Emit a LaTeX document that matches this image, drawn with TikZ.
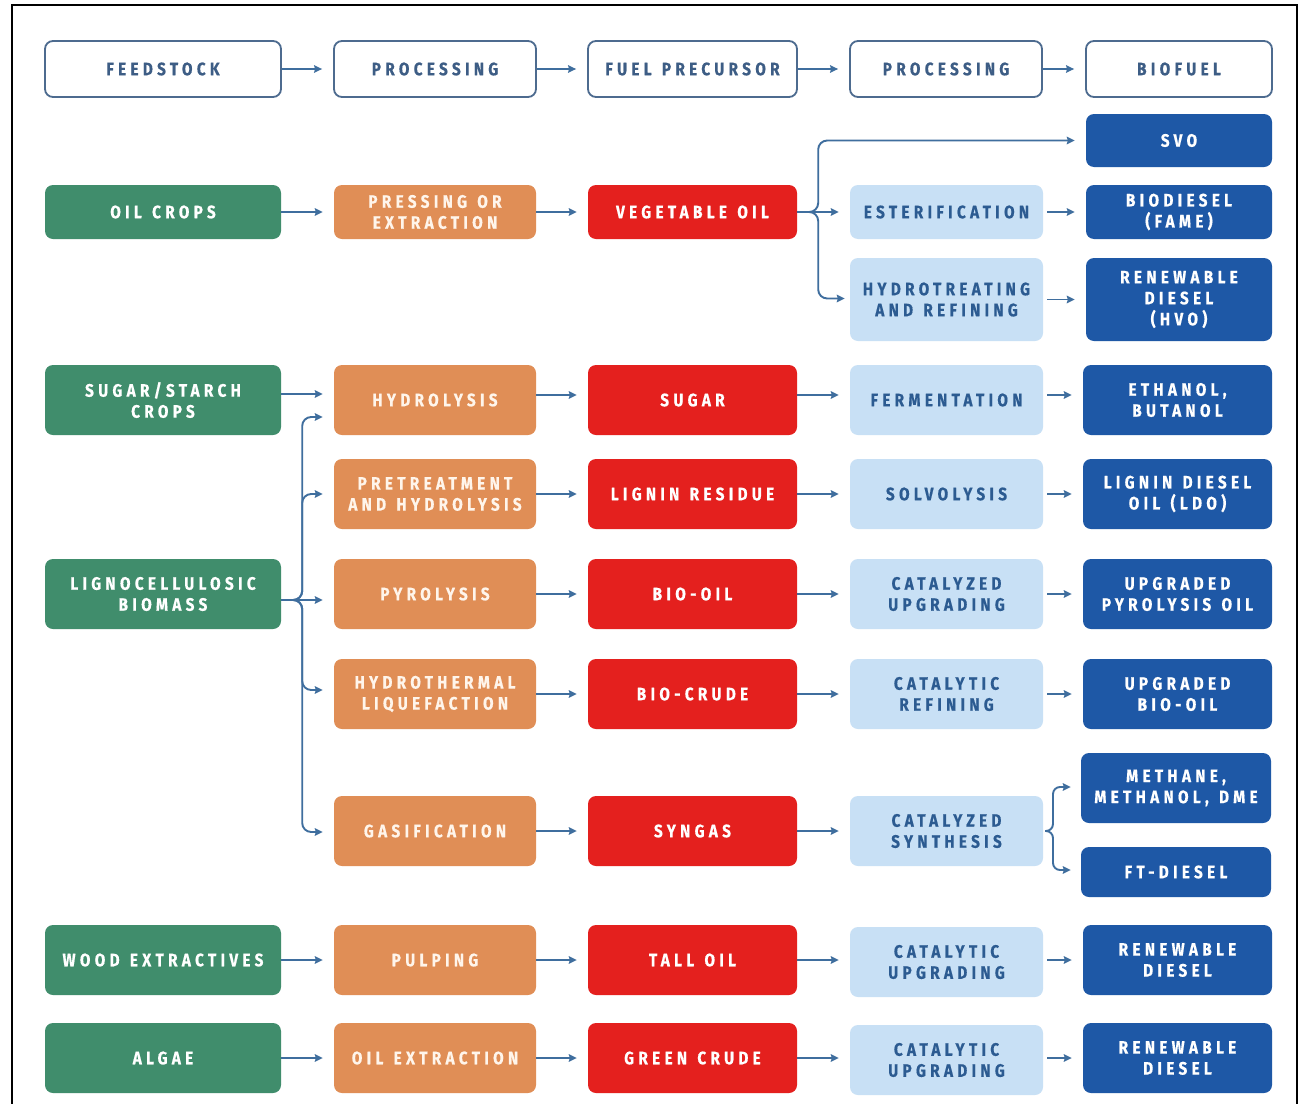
\documentclass[tikz,border=0pt]{standalone}
\usepackage{fontspec}
\setmainfont{Fira Sans}[FakeStretch=0.85,LetterSpace=24,WordSpace=1.3,FakeBold=0.5]
\usetikzlibrary{arrows.meta}
\definecolor{cgreen}{HTML}{408D6C}
\definecolor{corange}{HTML}{E08E56}
\definecolor{cred}{HTML}{E4201E}
\definecolor{clblue}{HTML}{C8E0F5}
\definecolor{cdblue}{HTML}{1E58A6}
\definecolor{chdr}{HTML}{4D6B8F}
\definecolor{chdrtext}{HTML}{3D5D85}
\definecolor{cltext}{HTML}{2C5B91}
\definecolor{carrow}{HTML}{3F6E9E}
\begin{document}
\begin{tikzpicture}[x=1pt,y=-1pt,
  box/.style={rounded corners=8pt, align=center, inner sep=0pt, text=white,
    font=\fontsize{18}{21}\selectfont\bfseries, minimum height=70pt},
  hdr/.style={box, draw=chdr, line width=1.8pt, fill=white, text=chdrtext, minimum height=56pt},
  gbox/.style={box, fill=cgreen, minimum width=236pt},
  obox/.style={box, fill=corange, text=white!92!orange, minimum width=202pt},
  rbox/.style={box, fill=cred, minimum width=209pt},
  lbox/.style={box, fill=clblue, text=cltext, minimum width=193pt},
  dbox/.style={box, fill=cdblue, minimum width=189pt},
  arr/.style={draw=carrow, line width=1.9pt, -{Stealth[length=8pt,width=7.5pt,inset=1pt]}, shorten >=11pt},
  arrs/.style={arr, shorten <=4pt}
]
\useasboundingbox (0,0) rectangle (1301,1103);
\fill[white] (0,0) rectangle (1301,1103);
\begin{scope}
\clip (0,0) rectangle (1301,1103);
\draw[line width=2pt, black] (12,5) rectangle (1297,1130);
\end{scope}

% header
\node[hdr, minimum width=236pt] (h1) at (163,69) {FEEDSTOCK};
\node[hdr, minimum width=202pt] (h2) at (435,69) {PROCESSING};
\node[hdr, minimum width=209pt] (h3) at (692.5,69) {FUEL PRECURSOR};
\node[hdr, minimum width=192pt] (h4) at (946,69) {PROCESSING};
\node[hdr, minimum width=186pt] (h5) at (1179,69) {BIOFUEL};
\draw[arr] (h1) -- (h2);
\draw[arr] (h2) -- (h3);
\draw[arr] (h3) -- (h4);
\draw[arr] (h4) -- (h5);

% oil crops
\node[gbox, minimum height=54pt] (oil) at (163,212) {OIL CROPS};
\node[obox, minimum height=54pt] (press) at (435,212) {PRESSING OR\\EXTRACTION};
\node[rbox, minimum height=54pt] (veg) at (692.5,212) {VEGETABLE OIL};
\node[lbox, minimum height=54pt] (ester) at (946.5,212) {ESTERIFICATION};
\node[dbox, minimum width=186pt, minimum height=54pt] (fame) at (1179,212) {BIODIESEL\\(FAME)};
\node[dbox, minimum width=186pt, minimum height=53pt] (svo) at (1179,140.5) {SVO};
\node[lbox, minimum height=83pt] (hydrot) at (946.5,299.5) {HYDROTREATING\\AND REFINING};
\node[dbox, minimum width=186pt, minimum height=83pt] (hvo) at (1179,299.5) {RENEWABLE\\DIESEL\\(HVO)};
\draw[arr] (oil) -- (press);
\draw[arr] (press) -- (veg);
\draw[arr] (veg) -- (ester);
\draw[arrs] (ester) -- (fame);
\draw[arrs] (hydrot) -- (hvo);
\draw[arr, rounded corners=9pt] (veg.east) -- ++(21,0) |- (svo.west);
\draw[arr, rounded corners=9pt, shorten >=5pt] (veg.east) -- ++(21,0) |- ([yshift=1pt]hydrot.west);

% sugar
\node[gbox] (ss) at (163,400) {SUGAR/STARCH\\CROPS};
\node[obox] (hydrol) at (435,400) {HYDROLYSIS};
\node[rbox] (sugar) at (692.5,400) {SUGAR};
\node[lbox] (ferm) at (946.5,400) {FERMENTATION};
\node[dbox] (eth) at (1177.5,400) {ETHANOL,\\BUTANOL};
\draw[arr] ([yshift=6pt]ss.east) -- ([yshift=6pt]hydrol.west);
\draw[arr] ([yshift=5pt]hydrol.east) -- ([yshift=5pt]sugar.west);
\draw[arr] ([yshift=5pt]sugar.east) -- ([yshift=5pt]ferm.west);
\draw[arrs] ([yshift=5pt]ferm.east) -- ([yshift=5pt]eth.west);

% pretreatment
\node[obox] (pre) at (435,494) {PRETREATMENT\\AND HYDROLYSIS};
\node[rbox] (lig) at (692.5,494) {LIGNIN RESIDUE};
\node[lbox] (solv) at (946.5,494) {SOLVOLYSIS};
\node[dbox] (ldo) at (1177.5,494) {LIGNIN DIESEL\\OIL (LDO)};
\draw[arr] (pre) -- (lig);
\draw[arr] (lig) -- (solv);
\draw[arrs] (solv) -- (ldo);

% pyrolysis
\node[gbox] (lcb) at (163,594) {LIGNOCELLULOSIC\\BIOMASS};
\node[obox] (pyro) at (435,594) {PYROLYSIS};
\node[rbox] (biooil) at (692.5,594) {BIO-OIL};
\node[lbox] (cu) at (946.5,594) {CATALYZED\\UPGRADING};
\node[dbox] (upo) at (1177.5,594) {UPGRADED\\PYROLYSIS OIL};
\draw[arr] (pyro) -- (biooil);
\draw[arr] (biooil) -- (cu);
\draw[arrs] (cu) -- (upo);

% hydrothermal
\node[obox] (htl) at (435,694) {HYDROTHERMAL\\LIQUEFACTION};
\node[rbox] (biocrude) at (692.5,694) {BIO-CRUDE};
\node[lbox] (cr) at (946.5,694) {CATALYTIC\\REFINING};
\node[dbox] (ubo) at (1177.5,694) {UPGRADED\\BIO-OIL};
\draw[arr] (htl) -- (biocrude);
\draw[arr] (biocrude) -- (cr);
\draw[arrs] (cr) -- (ubo);

% gasification
\node[obox] (gas) at (435,831) {GASIFICATION};
\node[rbox] (syngas) at (692.5,831) {SYNGAS};
\node[lbox] (cs) at (946.5,831) {CATALYZED\\SYNTHESIS};
\node[dbox, minimum width=190pt] (meth) at (1176,788) {METHANE,\\METHANOL, DME};
\node[dbox, minimum width=190pt, minimum height=50pt] (ft) at (1176,872) {FT-DIESEL};
\draw[arr] (gas) -- (syngas);
\draw[arr] (syngas) -- (cs);
\coordinate (brtip) at (1045,831);
\draw[arr, rounded corners=7pt, shorten >=10pt] (brtip) -- ++(8,0) |- ([yshift=1pt]meth.west);
\draw[arr, rounded corners=7pt, shorten >=10pt] (brtip) -- ++(8,0) |- ([yshift=2pt]ft.west);

% lignocellulosic branches
\draw[arr, rounded corners=9pt] ([yshift=-6pt]lcb.east) -- ++(21,0) |- ([yshift=-17pt]hydrol.west);
\draw[arr, rounded corners=9pt] ([yshift=-6pt]lcb.east) -- ++(21,0) |- (pre.west);
\draw[arr] ([yshift=-6pt]lcb.east) -- ([yshift=-6pt]pyro.west);
\draw[arr, rounded corners=9pt] ([yshift=-6pt]lcb.east) -- ++(21,0) |- ([yshift=4pt]htl.west);
\draw[arr, rounded corners=9pt] ([yshift=-6pt]lcb.east) -- ++(21,0) |- ([yshift=-1pt]gas.west);

% wood extractives
\node[gbox] (wood) at (163,960) {WOOD EXTRACTIVES};
\node[obox] (pulp) at (435,960) {PULPING};
\node[rbox] (tall) at (692.5,960) {TALL OIL};
\node[lbox] (cu2) at (946.5,962) {CATALYTIC\\UPGRADING};
\node[dbox] (rd) at (1177.5,960) {RENEWABLE\\DIESEL};
\draw[arr] (wood) -- (pulp);
\draw[arr] (pulp) -- (tall);
\draw[arr] (tall.east) -- (cu2.west |- tall.east);
\draw[arrs] (cu2.east |- rd.west) -- (rd.west);

% algae
\node[gbox] (algae) at (163,1058) {ALGAE};
\node[obox] (oilex) at (435,1058) {OIL EXTRACTION};
\node[rbox] (green) at (692.5,1058) {GREEN CRUDE};
\node[lbox] (cu3) at (946.5,1060) {CATALYTIC\\UPGRADING};
\node[dbox] (rd2) at (1177.5,1058) {RENEWABLE\\DIESEL};
\draw[arr] (algae) -- (oilex);
\draw[arr] (oilex) -- (green);
\draw[arr] (green.east) -- (cu3.west |- green.east);
\draw[arrs] (cu3.east |- rd2.west) -- (rd2.west);
\end{tikzpicture}
\end{document}
